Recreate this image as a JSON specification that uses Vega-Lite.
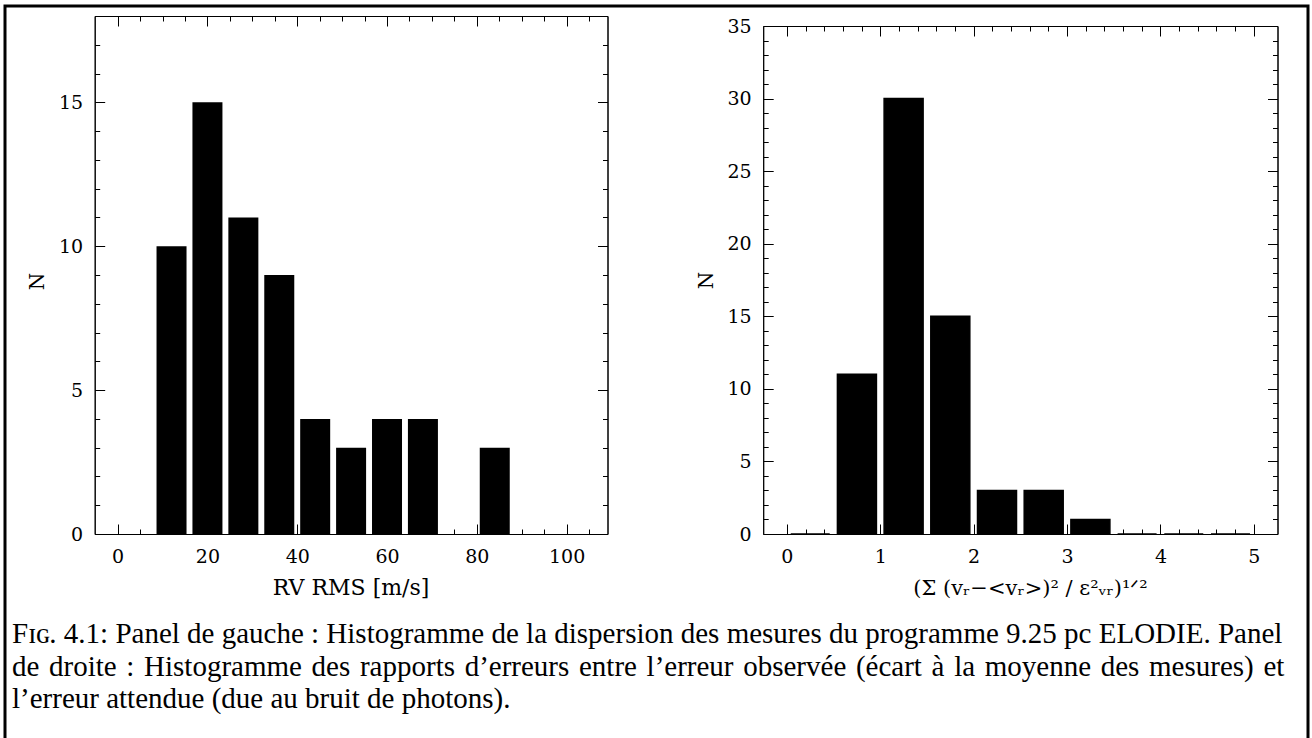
{
  "$schema": "https://vega.github.io/schema/vega-lite/v6.json",
  "width": 1303,
  "height": 740,
  "autosize": {"type": "none"},
  "padding": {"left": 5, "top": 6, "right": 4, "bottom": 0},
  "background": "white",
  "datasets": {
    "left": [
      {"rms": 12, "n": 10},
      {"rms": 20, "n": 15},
      {"rms": 28, "n": 11},
      {"rms": 36, "n": 9},
      {"rms": 44, "n": 4},
      {"rms": 52, "n": 3},
      {"rms": 60, "n": 4},
      {"rms": 68, "n": 4},
      {"rms": 84, "n": 3}
    ],
    "right": [
      {"ratio": 0.25, "n": 0},
      {"ratio": 0.75, "n": 11},
      {"ratio": 1.25, "n": 30},
      {"ratio": 1.75, "n": 15},
      {"ratio": 2.25, "n": 3},
      {"ratio": 2.75, "n": 3},
      {"ratio": 3.25, "n": 1},
      {"ratio": 3.75, "n": 0},
      {"ratio": 4.25, "n": 0},
      {"ratio": 4.75, "n": 0}
    ]
  },
  "title": {
    "text": [
      "Fɪɢ. 4.1: Panel de gauche : Histogramme de la dispersion des mesures du programme 9.25 pc ELODIE. Panel",
      "de\u200a droite\u200a :\u200a Histogramme\u200a des\u200a rapports\u200a d’erreurs\u200a entre\u200a l’erreur\u200a observée\u200a (écart\u200a à\u200a la\u200a moyenne\u200a des\u200a mesures)\u200a et",
      "l’erreur attendue (due au bruit de photons)."
    ],
    "orient": "bottom",
    "anchor": "start",
    "frame": "group",
    "offset": -103,
    "dx": 7,
    "baseline": "alphabetic",
    "lineHeight": 32.5,
    "font": "Liberation Serif",
    "fontSize": 29,
    "fontWeight": "normal",
    "color": "black"
  },
  "config": {
    "view": {"stroke": "black", "strokeWidth": 3},
    "axis": {
      "grid": false,
      "domainColor": "black",
      "domainWidth": 1,
      "tickColor": "black",
      "tickWidth": 1,
      "labelFont": "DejaVu Serif",
      "labelFontSize": 19,
      "labelColor": "black",
      "labelFlush": false,
      "labelOverlap": false,
      "labelBound": false,
      "titleFont": "DejaVu Serif",
      "titleFontSize": 20,
      "titleFontWeight": "normal",
      "titleColor": "black"
    }
  },
  "resolve": {
    "scale": {"x": "independent", "y": "independent"},
    "axis": {"x": "independent", "y": "independent"}
  },
  "layer": [
    {
      "data": {"name": "left"},
      "mark": {"type": "bar", "color": "black", "size": 30},
      "encoding": {
        "x": {
          "field": "rms", "type": "quantitative",
          "scale": {"domain": [-4, 108], "range": [89.7, 602.5], "nice": false, "zero": false},
          "axis": {
            "orient": "bottom", "offset": -212,
            "values": [0, 20, 40, 60, 80, 100], "format": "d",
            "tickSize": -10,
            "labelPadding": 23, "labelBaseline": "top",
            "title": "RV RMS [m/s]", "titleFontSize": 22, "titleX": 345.6, "titleY": 53, "titleBaseline": "middle", "titleAlign": "center"
          }
        },
        "y": {
          "field": "n", "type": "quantitative",
          "scale": {"domain": [0, 18], "range": [528, 10], "nice": false, "zero": true},
          "axis": {
            "orient": "left", "offset": -89.7,
            "values": [0, 5, 10, 15], "format": "d",
            "tickSize": -10,
            "labelPadding": 22,
            "title": "N", "titleX": -56.7, "titleY": 275, "titleBaseline": "middle", "titleAlign": "center", "titleAngle": 270
          }
        }
      }
    },
    {
      "data": {"name": "left"},
      "mark": {"type": "bar", "size": 30, "opacity": 0},
      "encoding": {
        "x": {
          "field": "rms", "type": "quantitative",
          "scale": {"domain": [-4, 108], "range": [89.7, 602.5], "nice": false, "zero": false},
          "axis": {
            "orient": "bottom", "offset": -212,
            "values": [5, 10, 15, 25, 30, 35, 45, 50, 55, 65, 70, 75, 85, 90, 95, 105],
            "tickSize": -5, "labels": false, "title": null
          }
        },
        "y": {
          "field": "n", "type": "quantitative",
          "scale": {"domain": [0, 18], "range": [528, 10], "nice": false, "zero": true},
          "axis": {
            "orient": "left", "offset": -89.7,
            "values": [1, 2, 3, 4, 6, 7, 8, 9, 11, 12, 13, 14, 16, 17],
            "tickSize": -5, "labels": false, "title": null
          }
        }
      }
    },
    {
      "data": {"name": "left"},
      "mark": {"type": "bar", "size": 30, "opacity": 0},
      "encoding": {
        "x": {
          "field": "rms", "type": "quantitative",
          "scale": {"domain": [-4, 108], "range": [89.7, 602.5], "nice": false, "zero": false},
          "axis": {
            "orient": "top", "offset": -10,
            "values": [0, 20, 40, 60, 80, 100],
            "tickSize": -10, "labels": false, "title": null
          }
        },
        "y": {
          "field": "n", "type": "quantitative",
          "scale": {"domain": [0, 18], "range": [528, 10], "nice": false, "zero": true},
          "axis": {
            "orient": "right", "offset": -700.5,
            "values": [0, 5, 10, 15],
            "tickSize": -10, "labels": false, "title": null
          }
        }
      }
    },
    {
      "data": {"name": "left"},
      "mark": {"type": "bar", "size": 30, "opacity": 0},
      "encoding": {
        "x": {
          "field": "rms", "type": "quantitative",
          "scale": {"domain": [-4, 108], "range": [89.7, 602.5], "nice": false, "zero": false},
          "axis": {
            "orient": "top", "offset": -10,
            "values": [5, 10, 15, 25, 30, 35, 45, 50, 55, 65, 70, 75, 85, 90, 95, 105],
            "tickSize": -5, "labels": false, "title": null
          }
        },
        "y": {
          "field": "n", "type": "quantitative",
          "scale": {"domain": [0, 18], "range": [528, 10], "nice": false, "zero": true},
          "axis": {
            "orient": "right", "offset": -700.5,
            "values": [1, 2, 3, 4, 6, 7, 8, 9, 11, 12, 13, 14, 16, 17],
            "tickSize": -5, "labels": false, "title": null
          }
        }
      }
    },
    {
      "data": {"name": "right"},
      "mark": {"type": "bar", "color": "black", "size": 39, "stroke": "black", "strokeWidth": 1.5},
      "encoding": {
        "x": {
          "field": "ratio", "type": "quantitative",
          "scale": {"domain": [-0.2, 5.2], "range": [758.2, 1272.5], "nice": false, "zero": false},
          "axis": {
            "orient": "bottom", "offset": -212,
            "values": [0, 1, 2, 3, 4, 5], "format": "d",
            "tickSize": -10,
            "labelPadding": 23, "labelBaseline": "top",
            "title": "(Σ (vᵣ−<vᵣ>)² / ε²ᵥᵣ)¹ᐟ²", "titleFontSize": 21, "titleX": 1025, "titleY": 54, "titleBaseline": "middle", "titleAlign": "center"
          }
        },
        "y": {
          "field": "n", "type": "quantitative",
          "scale": {"domain": [0, 35], "range": [528, 20], "nice": false, "zero": true},
          "axis": {
            "orient": "left", "offset": -758.2,
            "values": [0, 5, 10, 15, 20, 25, 30, 35], "format": "d",
            "tickSize": -10,
            "labelPadding": 22,
            "title": "N", "titleX": -57.2, "titleY": 274, "titleBaseline": "middle", "titleAlign": "center", "titleAngle": 270
          }
        }
      }
    },
    {
      "data": {"name": "right"},
      "mark": {"type": "bar", "size": 39, "opacity": 0},
      "encoding": {
        "x": {
          "field": "ratio", "type": "quantitative",
          "scale": {"domain": [-0.2, 5.2], "range": [758.2, 1272.5], "nice": false, "zero": false},
          "axis": {
            "orient": "bottom", "offset": -212,
            "values": [0.2, 0.4, 0.6, 0.8, 1.2, 1.4, 1.6, 1.8, 2.2, 2.4, 2.6, 2.8, 3.2, 3.4, 3.6, 3.8, 4.2, 4.4, 4.6, 4.8],
            "tickSize": -5, "labels": false, "title": null
          }
        },
        "y": {
          "field": "n", "type": "quantitative",
          "scale": {"domain": [0, 35], "range": [528, 20], "nice": false, "zero": true},
          "axis": {
            "orient": "left", "offset": -758.2,
            "values": [1, 2, 3, 4, 6, 7, 8, 9, 11, 12, 13, 14, 16, 17, 18, 19, 21, 22, 23, 24, 26, 27, 28, 29, 31, 32, 33, 34],
            "tickSize": -5, "labels": false, "title": null
          }
        }
      }
    },
    {
      "data": {"name": "right"},
      "mark": {"type": "bar", "size": 39, "opacity": 0},
      "encoding": {
        "x": {
          "field": "ratio", "type": "quantitative",
          "scale": {"domain": [-0.2, 5.2], "range": [758.2, 1272.5], "nice": false, "zero": false},
          "axis": {
            "orient": "top", "offset": -20,
            "values": [0, 1, 2, 3, 4, 5],
            "tickSize": -10, "labels": false, "title": null
          }
        },
        "y": {
          "field": "n", "type": "quantitative",
          "scale": {"domain": [0, 35], "range": [528, 20], "nice": false, "zero": true},
          "axis": {
            "orient": "right", "offset": -30.5,
            "values": [0, 5, 10, 15, 20, 25, 30, 35],
            "tickSize": -10, "labels": false, "title": null
          }
        }
      }
    },
    {
      "data": {"name": "right"},
      "mark": {"type": "bar", "size": 39, "opacity": 0},
      "encoding": {
        "x": {
          "field": "ratio", "type": "quantitative",
          "scale": {"domain": [-0.2, 5.2], "range": [758.2, 1272.5], "nice": false, "zero": false},
          "axis": {
            "orient": "top", "offset": -20,
            "values": [0.2, 0.4, 0.6, 0.8, 1.2, 1.4, 1.6, 1.8, 2.2, 2.4, 2.6, 2.8, 3.2, 3.4, 3.6, 3.8, 4.2, 4.4, 4.6, 4.8],
            "tickSize": -5, "labels": false, "title": null
          }
        },
        "y": {
          "field": "n", "type": "quantitative",
          "scale": {"domain": [0, 35], "range": [528, 20], "nice": false, "zero": true},
          "axis": {
            "orient": "right", "offset": -30.5,
            "values": [1, 2, 3, 4, 6, 7, 8, 9, 11, 12, 13, 14, 16, 17, 18, 19, 21, 22, 23, 24, 26, 27, 28, 29, 31, 32, 33, 34],
            "tickSize": -5, "labels": false, "title": null
          }
        }
      }
    }
  ]
}
